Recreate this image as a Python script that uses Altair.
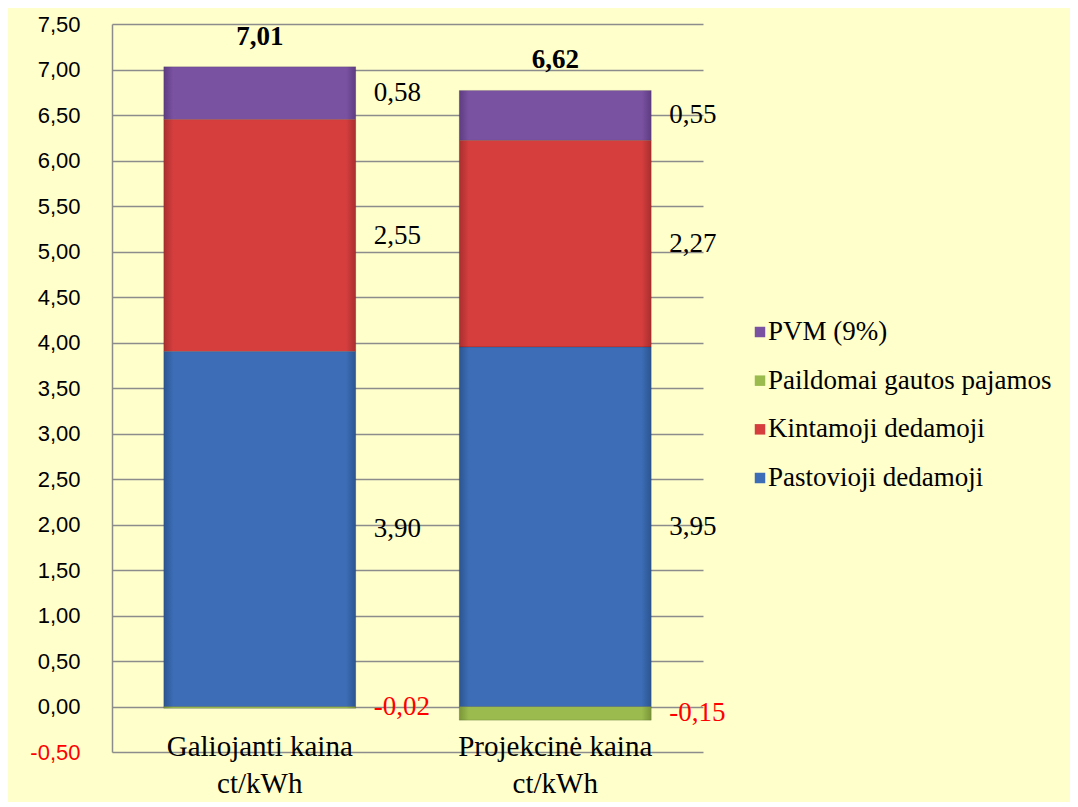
import altair as alt
import pandas as pd

categories = ["Galiojanti kaina\nct/kWh", "Projekcinė kaina\nct/kWh"]
legend_order = ["PVM (9%)", "Paildomai gautos pajamos", "Kintamoji dedamoji", "Pastovioji dedamoji"]
legend_colors = ["#7A52A2", "#9BBB4E", "#D63E3E", "#3C6DB6"]
edge_colors = ["#5E3C82", "#7A9638", "#A92E2E", "#2C5590"]

pastovioji = [3.90, 3.95]
kintamoji = [2.55, 2.27]
paildomai = [-0.02, -0.15]
pvm = [0.58, 0.55]
totals = [7.01, 6.62]

rows = []
for i, c in enumerate(categories):
    rows.append({"cat": c, "series": "Pastovioji dedamoji", "value": pastovioji[i], "ord": 0})
    rows.append({"cat": c, "series": "Kintamoji dedamoji", "value": kintamoji[i], "ord": 1})
    rows.append({"cat": c, "series": "PVM (9%)", "value": pvm[i], "ord": 2})
    rows.append({"cat": c, "series": "Paildomai gautos pajamos", "value": paildomai[i], "ord": 3})
df = pd.DataFrame(rows)

tot_df = pd.DataFrame({
    "cat": categories,
    "total": totals,
    "top": [pastovioji[i] + kintamoji[i] + pvm[i] for i in range(len(categories))],
})
cat_df = pd.DataFrame({"cat": categories})
leg_df = pd.DataFrame({"series": legend_order})

SERIF = "Liberation Serif"
SANS = "Liberation Sans"
FMT = "replace(replace(format({f}, '.2f'), '.', ','), '\u2212', '-')"

y_scale = alt.Scale(domain=[-0.5, 7.5], nice=False, zero=False)
color_scale = alt.Scale(domain=legend_order, range=legend_colors)

base = alt.Chart(df).transform_stack(
    stack="value", as_=["y0", "y1"], groupby=["cat"], sort=[alt.SortField("ord")]
)

# axis carrier (invisible) for y axis and gridlines
axis_layer = alt.Chart(df).mark_bar(opacity=0).encode(
    x=alt.X("cat:N", sort=categories, title=None, axis=None),
    y=alt.Y(
        "value:Q",
        stack="zero",
        scale=y_scale,
        title=None,
        axis=alt.Axis(
            values=[v / 2 for v in range(-1, 16)],
            labelExpr=FMT.format(f="datum.value"),
            labelColor={"expr": "datum.value < 0 ? '#FF0000' : '#000000'"},
            labelFont=SANS,
            labelFontSize=22,
            labelPadding=32,
            ticks=False,
            domainColor="#8C8C8C",
            domainWidth=1.5,
            gridColor="#8C8C8C",
            gridWidth=1.5,
        ),
    ),
)

bar_layers = []
for name, col, edge in zip(legend_order, legend_colors, edge_colors):
    grad = alt.Gradient(
        gradient="linear", x1=0, x2=1, y1=0, y2=0,
        stops=[
            alt.GradientStop(offset=0, color=edge),
            alt.GradientStop(offset=0.05, color=col),
            alt.GradientStop(offset=0.95, color=col),
            alt.GradientStop(offset=1, color=edge),
        ],
    )
    bar_layers.append(
        base.transform_filter(alt.datum.series == name).mark_bar(
            size=192, color=grad, stroke="#00000022", strokeWidth=1
        ).encode(
            x=alt.X("cat:N", sort=categories),
            y=alt.Y("y0:Q", scale=y_scale),
            y2="y1:Q",
        )
    )

labels = base.transform_calculate(
    mid="(datum.y0 + datum.y1) / 2",
    txt=FMT.format(f="datum.value"),
).mark_text(
    align="left", baseline="middle", dx=114, font=SERIF, fontSize=27
).encode(
    x=alt.X("cat:N", sort=categories),
    y=alt.Y("mid:Q", scale=y_scale),
    text="txt:N",
    color=alt.condition("datum.value < 0", alt.value("#FF0000"), alt.value("#000000")),
)

total_labels = alt.Chart(tot_df).transform_calculate(
    txt=FMT.format(f="datum.total")
).mark_text(
    align="center", baseline="middle", dy=-30, font=SERIF, fontSize=27, fontWeight="bold", color="#000000"
).encode(
    x=alt.X("cat:N", sort=categories),
    y=alt.Y("top:Q", scale=y_scale),
    text="txt:N",
)

cat_labels = alt.Chart(cat_df).transform_calculate(
    bottom="-0.5"
).mark_text(
    align="center", baseline="top", dy=-19, font=SERIF, fontSize=29, lineBreak="\n", lineHeight=37, color="#000000"
).encode(
    x=alt.X("cat:N", sort=categories),
    y=alt.Y("bottom:Q", scale=y_scale),
    text="cat:N",
)

main = alt.layer(axis_layer, *bar_layers, labels, total_labels, cat_labels)

leg_y = alt.Y("series:N", sort=legend_order, axis=None,
              scale=alt.Scale(domain=legend_order, range=[308, 454], padding=0))

leg_sym = alt.Chart(leg_df).mark_square(size=110, opacity=1).encode(
    x=alt.value(648),
    y=leg_y,
    color=alt.Color("series:N", scale=color_scale, legend=None),
)
leg_txt = alt.Chart(leg_df).mark_text(
    align="left", baseline="middle", font=SERIF, fontSize=27, color="#000000"
).encode(
    x=alt.value(656),
    y=leg_y,
    text="series:N",
)
legend = alt.layer(leg_sym, leg_txt)

chart = alt.layer(main, legend).resolve_scale(y="independent").properties(
    width=591,
    height=728,
    background="#FFFFCC",
    padding={"left": 104, "top": 16, "right": 367, "bottom": 50},
    autosize=alt.AutoSizeParams(type="none"),
).configure_view(stroke=None)

chart.save("out.html", embed_options={"renderer": "svg", "actions": False})
